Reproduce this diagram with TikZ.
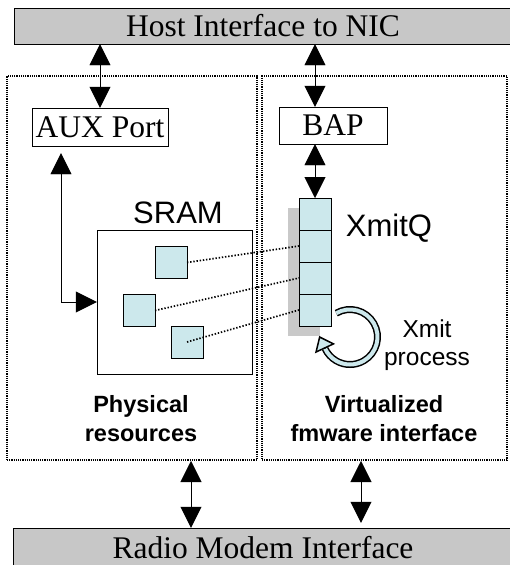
\documentclass[tikz,border=0pt]{standalone}
\usepackage{fontspec}
\setmainfont{Liberation Serif}
\setsansfont{Liberation Sans}
\usetikzlibrary{positioning,arrows.meta,backgrounds,calc}
\definecolor{cellblue}{RGB}{204,232,236}
\tikzset{
>={Triangle[length=21pt,width=21pt]},
line width=2pt,
}

\begin{document}
\begin{tikzpicture}
    [x=1pt, y=-1pt,
    bar/.style={draw, fill=black!22, inner sep=0pt, font=\fontsize{31.5}{36}\selectfont},
    region/.style={draw, line width=2pt, dash pattern=on 1.2pt off 1pt},
    port/.style={draw, inner sep=0pt, font=\fontsize{31.5}{36}\selectfont},
    cell/.style={draw, fill=cellblue, minimum width=32pt, minimum height=32pt, inner sep=0pt, outer sep=0pt},
    tag/.style={font=\sffamily\fontsize{31}{36}\selectfont, inner sep=0pt},
    caption/.style={font=\sffamily\bfseries\fontsize{23.5}{29}\selectfont, align=center, inner sep=0pt},
    link/.style={line width=1.7pt, dash pattern=on 1.4pt off 1.8pt},
    ]
    \useasboundingbox (0,0) rectangle (509,565);

    \node [bar, minimum width=498pt, minimum height=36pt] (host) at (263,26) {Host Interface to NIC};
    \node [bar, minimum width=500pt, minimum height=40pt] (radio) at (263,548) {Radio Modem Interface};

    \node [region, minimum width=250pt, minimum height=384pt] (phys) at (132,268) {};
    \node [region, minimum width=245pt, minimum height=384pt] (virt) at (384.5,268) {};

    \node [port, minimum width=136pt, minimum height=38pt] (aux) at (100,127) {AUX Port};
    \node [port, minimum width=108pt, minimum height=37pt] (bap) at (333,125.5) {BAP};

    % SRAM with its buffers
    \node [draw, minimum width=155pt, minimum height=144pt] (sram) at (174.5,302) {};
    \node [tag, anchor=base] (sramlabel) at (178,223) {SRAM};
    \node [cell] (s1) at (171,262.5) {};
    \node [cell] (s2) at (139,310.5) {};
    \node [cell] (s3) at (187,342) {};

    % transmit queue
    \node [cell] (q1) at (315,214) {};
    \node [cell, below=0pt of q1] (q2) {};
    \node [cell, below=0pt of q2] (q3) {};
    \node [cell, below=0pt of q3] (q4) {};
    \node [tag, anchor=base] (qlabel) at (389,236) {XmitQ};
    \begin{scope}[on background layer]
        \fill [black!21] ([shift={(-11pt,-10pt)}]q1.north west) rectangle ([shift={(-11pt,-10pt)}]q4.south east);
    \end{scope}

    \draw [link] (s1.east) -- (q2.west);
    \draw [link] (s2.east) -- (q3.west);
    \draw [link] (s3.center) -- (q4.west);

    \node [caption] (physlabel) at (141,419) {Physical\\resources};
    \node [caption] (virtlabel) at (384,419) {Virtualized\\fmware interface};

    \draw [<->] (host.south -| aux.north) -- (aux.north);
    \draw [<->] (host.south -| q1.north) -- (bap.north -| q1.north);
    \draw [<->] (bap.south -| q1.north) -- (q1.north);
    \draw [<->, shorten <=7pt] ([xshift=-39pt]aux.south) |- (sram.west);
    \draw [<->] ([xshift=59pt]phys.south) -- ([xshift=59pt]phys.south |- radio.north);
    \draw [<->, shorten >=5pt] ([xshift=-23.5pt]virt.south) -- ([xshift=-23.5pt]virt.south |- radio.north);

    % Xmit loop
    \coordinate (loopc) at (350,337);
    \coordinate (loopend) at ($(loopc)+(155:27.5)$);
    \draw [line width=1.5pt, double=cellblue, double distance=4pt] ($(loopc)+(-120:27.5)$) arc [start angle=-120, end angle=155, radius=27.5];
    \draw [line width=1.5pt, -{Triangle[length=14pt, width=22pt, fill=cellblue]}] (loopend) -- ($(loopend)+(245:14)$);
    \node [font=\sffamily\fontsize{24.5}{28}\selectfont, align=center, inner sep=0pt] (xmit) at (427,345) {Xmit\\process};

\end{tikzpicture}
\end{document}
